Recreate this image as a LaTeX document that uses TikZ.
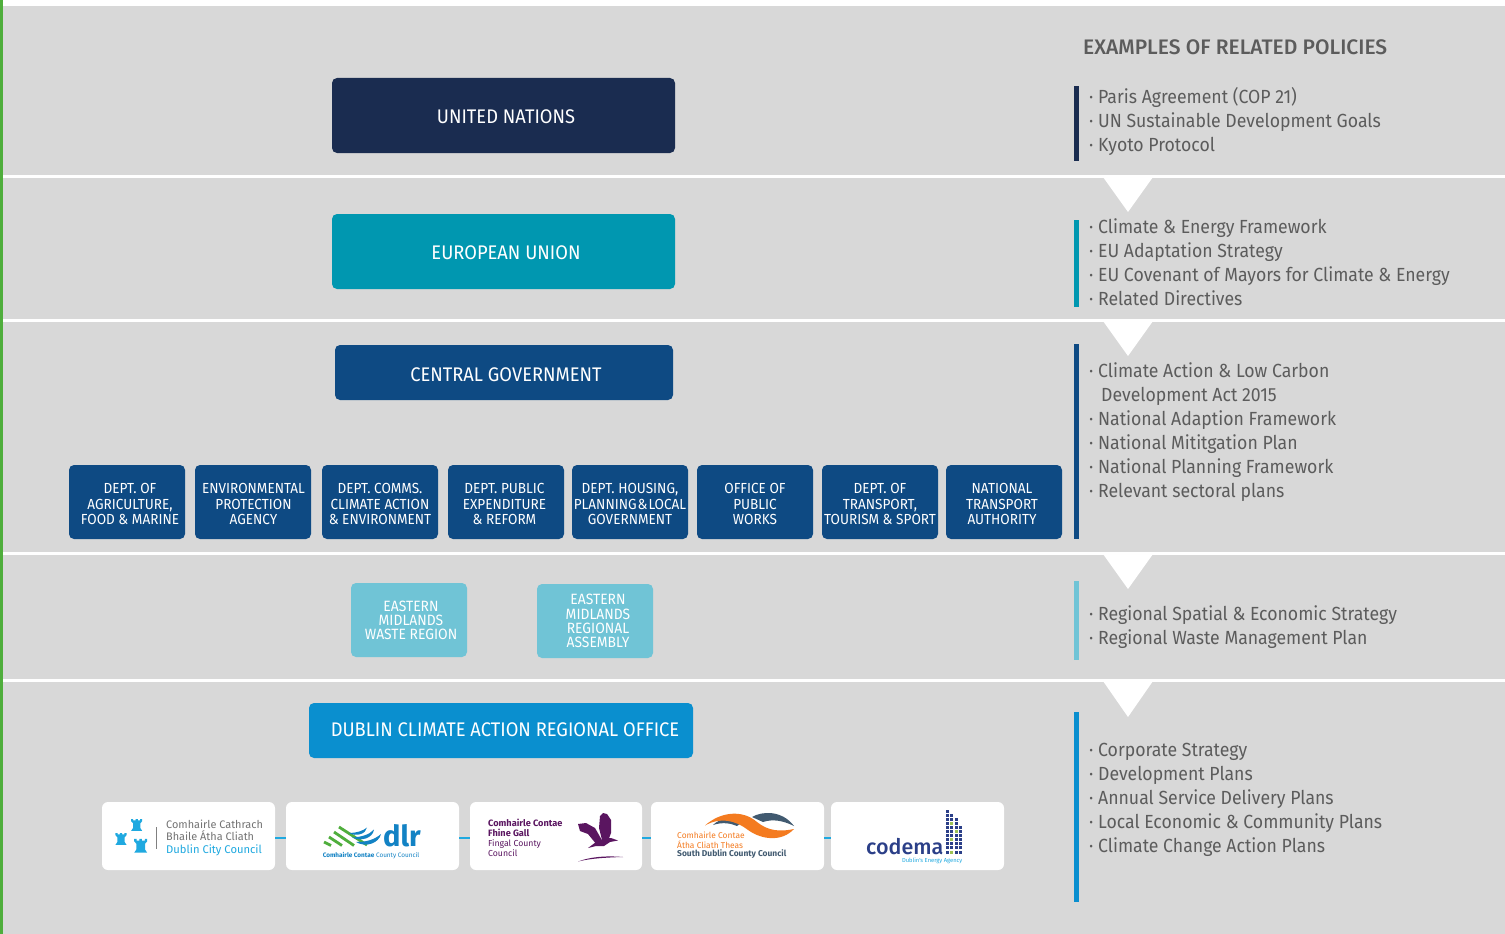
\documentclass[tikz,border=0pt]{standalone}
\usepackage{fontspec}
\setmainfont[FakeStretch=0.93]{Fira Sans}
\newfontfamily\plain{Fira Sans}
\newfontfamily\medfont{Fira Sans Medium}
\definecolor{bg}{HTML}{D8D8D8}
\definecolor{txt}{HTML}{5C5C5C}
\definecolor{navy}{HTML}{1A2C50}
\definecolor{teal}{HTML}{0097B0}
\definecolor{govblue}{HTML}{0E4A83}
\definecolor{lightb}{HTML}{70C4D6}
\definecolor{dublin}{HTML}{0A8FCF}
\definecolor{leaf}{HTML}{4FAE3C}
\definecolor{sky}{HTML}{1FA9E0}
\definecolor{dlrblue}{HTML}{1282C4}
\definecolor{purp}{HTML}{5A1560}
\definecolor{orng}{HTML}{F47B20}
\definecolor{slate}{HTML}{415A70}
\definecolor{cod}{HTML}{2B3F88}
\definecolor{codg}{HTML}{9CC255}
\tikzset{
 org/.style={draw=none,rounded corners=5pt,inner sep=0pt},
 biglab/.style={text=white,align=center,inner sep=0pt,font=\fontsize{19.7}{22}\selectfont},
 deptlab/.style={text=white,align=center,inner sep=0pt,font=\fontsize{14.6}{15.4}\selectfont},
 reglab/.style={text=white,align=center,inner sep=0pt,font=\fontsize{14.9}{14.2}\selectfont},
 tx/.style n args={4}{label={[#1,xshift=#2pt,yshift=#3pt]center:{#4}}},
 dept/.style={org,fill=govblue,minimum width=116pt,minimum height=74pt},
 reg/.style={org,fill=lightb,minimum width=116pt,minimum height=74pt},
 logo/.style={fill=white,rounded corners=6pt,minimum height=68pt,inner sep=0pt},
 pol/.style={anchor=north west,align=left,inner sep=0pt,text=txt,font=\fontsize{19}{24}\selectfont},
 sep/.style={fill=white,draw=none},
 link/.style={draw=sky,line width=1.3pt},
 tiny/.style={inner sep=0pt,anchor=west,align=left},
}
\newcommand{\castle}[2]{\fill[sky,shift={(#1)},xscale=#2,yscale=0.75*#2] (-6,-7)--(-6,-10)--(-3.8,-10)--(-3.8,-8)--(-1.2,-8)--(-1.2,-10)--(1.2,-10)--(1.2,-8)--(3.8,-8)--(3.8,-10)--(6,-10)--(6,-7)--(4,-4)--(4,3)--(6,7)--(-6,7)--(-4,3)--(-4,-4)--cycle;}
\begin{document}
\begin{tikzpicture}[x=1pt,y=-1pt]
\useasboundingbox (0,0) rectangle (1505,934);
\fill[white] (0,0) rectangle (1505,934);
\fill[bg] (3,6) rectangle (1505,934);
\fill[leaf] (0,0) rectangle (3,934);
% separators
\fill[sep] (3,175) rectangle (1505,177.5);
\fill[sep] (3,319) rectangle (1505,321.5);
\fill[sep] (3,552) rectangle (1505,554.5);
\fill[sep] (3,679) rectangle (1505,681.5);
\fill[sep] (1103,177)--(1153,177)--(1128,212)--cycle;
\fill[sep] (1103,321)--(1153,321)--(1128,356)--cycle;
\fill[sep] (1103,554)--(1153,554)--(1128,589)--cycle;
\fill[sep] (1103,681)--(1153,681)--(1128,717)--cycle;
% bars
\fill[navy] (1074,86) rectangle (1079,161);
\fill[teal] (1074,220) rectangle (1079,307);
\fill[govblue] (1074,344) rectangle (1079,539);
\fill[lightb] (1074,581) rectangle (1079,660);
\fill[dublin] (1074,712) rectangle (1079,902);
% main boxes
\node[org,fill=navy,minimum width=343pt,minimum height=75pt,tx={biglab}{2.5}{-1.5}{UNITED NATIONS}] (un) at (503.5,115.5) {};
\node[org,fill=teal,minimum width=343pt,minimum height=75pt,tx={biglab}{2.5}{-1.5}{EUROPEAN UNION}] (eu) at (503.5,251.5) {};
\node[org,fill=govblue,minimum width=338pt,minimum height=55pt,tx={biglab}{2}{-2.5}{CENTRAL GOVERNMENT}] (cg) at (504,372.5) {};
\node[dept,tx={deptlab}{3}{-2}{DEPT. OF\\AGRICULTURE,\\FOOD \& MARINE}] (d1) at (127,502) {};
\node[dept,tx={deptlab}{0.5}{-2}{ENVIRONMENTAL\\PROTECTION\\AGENCY}] (d2) at (253,502) {};
\node[dept,tx={deptlab}{0}{-2}{DEPT. COMMS.\\CLIMATE ACTION\\\& ENVIRONMENT}] (d3) at (380,502) {};
\node[dept,tx={deptlab}{-1.5}{-2}{DEPT. PUBLIC\\EXPENDITURE\\\& REFORM}] (d4) at (506,502) {};
\node[dept,tx={deptlab}{0}{-2}{DEPT. HOUSING,\\PLANNING\kern1pt\&\kern1pt LOCAL\\GOVERNMENT}] (d5) at (630,502) {};
\node[dept,tx={deptlab}{0}{-2}{OFFICE OF\\PUBLIC\\WORKS}] (d6) at (755,502) {};
\node[dept,tx={deptlab}{0}{-2}{DEPT. OF\\TRANSPORT,\\TOURISM \& SPORT}] (d7) at (880,502) {};
\node[dept,tx={deptlab}{-2}{-2}{NATIONAL\\TRANSPORT\\AUTHORITY}] (d8) at (1004,502) {};
\node[reg,tx={reglab}{2}{-0.5}{EASTERN\\MIDLANDS\\WASTE REGION}] (r1) at (409,620) {};
\node[reg,tx={reglab}{3}{0}{EASTERN\\MIDLANDS\\REGIONAL\\ASSEMBLY}] (r2) at (595,621) {};
\node[org,fill=dublin,minimum width=384pt,minimum height=55pt,tx={biglab}{4}{0.5}{DUBLIN CLIMATE ACTION REGIONAL OFFICE}] (dc) at (501,730.5) {};
% logos
\node[logo,minimum width=173pt] (l1) at (188.5,836) {};
\node[logo,minimum width=173pt] (l2) at (372.5,836) {};
\node[logo,minimum width=172pt] (l3) at (556,836) {};
\node[logo,minimum width=173pt] (l4) at (737.5,836) {};
\node[logo,minimum width=173pt] (l5) at (917.5,836) {};
\draw[link] ([yshift=-2pt]l1.east) -- ([yshift=-2pt]l2.west);
\draw[link] ([yshift=-2pt]l2.east) -- ([yshift=-2pt]l3.west);
\draw[link] ([yshift=-2pt]l3.east) -- ([yshift=-2pt]l4.west);
\draw[link] ([yshift=-2pt]l4.east) -- ([yshift=-2pt]l5.west);
% logo 1
\castle{136.7,826}{0.92}
\castle{121,840}{0.92}
\castle{140.7,847}{1.08}
\draw[gray,line width=0.6pt] (156,827)--(156,849);
\node[tiny,text=gray!90!black,font=\plain\fontsize{10.9}{12.6}\selectfont] (t1a) at (166,830.5) {Comhairle Cathrach\\Bhaile Átha Cliath};
\node[tiny,text=sky,font=\plain\fontsize{11.2}{12}\selectfont] (t1b) at (166,850) {Dublin City Council};
% logo 2
\draw[leaf,line width=2.8pt] (324,842)--(331,845.5);
\draw[leaf,line width=2.8pt] (329,837)--(342,845.5);
\draw[leaf,line width=2.8pt] (334,832)--(354,845.5);
\draw[leaf,line width=2.8pt] (339,827)--(367,845);
\fill[dlrblue] (356,842) .. controls (366,842) and (374,840) .. (381,834) .. controls (379,843) and (366,848) .. (356,842)--cycle;
\fill[dlrblue] (352,837.5) .. controls (361,837) and (369,835) .. (374,829.5) .. controls (373,838) and (361,842) .. (352,837.5)--cycle;
\fill[dlrblue] (349,833) .. controls (356,833) and (363,831) .. (367,827.5) .. controls (366,834) and (356,837) .. (349,833)--cycle;
\node[inner sep=0pt,text=dlrblue,font=\plain\fontsize{29}{29}\bfseries\selectfont] (t2a) at (402,836) {dlr};
\node[inner sep=0pt,font=\plain\fontsize{6.4}{7}\selectfont,text=dlrblue] (t2b) at (371,855.5) {\textbf{Comhairle Contae} County Council};
% logo 3
\node[tiny,text=purp,font=\plain\fontsize{9.2}{10.2}\bfseries\selectfont] (t3a) at (488,828) {Comhairle Contae\\Fhine Gall};
\node[tiny,text=purp,font=\plain\fontsize{8.7}{10.2}\selectfont] (t3b) at (488,848.5) {Fingal County\\Council};
\fill[purp] (600,816)--(603,813)--(607,814)--(611,820)--(611,833)--(608,841)--(602,840)--(599,828)--cycle;
\fill[purp] (578,824)--(586,823)--(595,828)--(603,842)--(597,845)--(588,834)--(580,831)--cycle;
\fill[purp] (588,848)--(596,842)--(606,838)--(611,838)--(618,840.5)--(610,842)--(604,846)--(596,846)--cycle;
\fill[purp] (578,861.5) .. controls (590,857) and (605,855.5) .. (623,857) .. controls (605,857.5) and (590,858.5) .. (578,861.5)--cycle;
% logo 4
\fill[slate] (713,825) .. controls (720,818) and (730,817) .. (741,823)--(737,826) .. controls (730,823) and (722,822) .. (713,825)--cycle;
\fill[slate] (752,817) .. controls (762,811) and (782,810) .. (794,826) .. controls (782,820) and (772,819) .. (763,822)--cycle;
\fill[orng] (705,825.5) .. controls (720,812) and (742,809) .. (757,822) .. controls (768,831) and (780,832) .. (794,829) .. controls (782,842) and (762,840) .. (748,830) .. controls (735,820) and (720,817) .. (705,825.5)--cycle;
\node[tiny,text=orng,font=\plain\fontsize{8.4}{9.8}\selectfont] (t4a) at (677,840) {Comhairle Contae\\Átha Cliath Theas};
\node[tiny,text=slate,font=\plain\fontsize{8.45}{9}\bfseries\selectfont] (t4b) at (677,854) {South Dublin County Council};
% logo 5
\node[inner sep=0pt,anchor=base west,text=cod,font=\medfont\fontsize{21.5}{22}\selectfont] (t5a) at (866,854) {codema};
\node[inner sep=0pt,anchor=east,text=sky,font=\plain\fontsize{5.8}{6}\selectfont] (t5b) at (962.5,860.5) {Dublin's Energy Agency};
\foreach \r in {0,...,10}{\foreach \c in {0,1,2,3}{
  \pgfmathsetmacro{\xx}{946+\c*4.4}
  \pgfmathsetmacro{\yy}{809.5+\r*4.1}
  \pgfmathtruncatemacro{\show}{(\c==0||(\c==1&&\r>0)||(\c==2&&\r>1)||(\c==3&&\r>3))?1:0}
  \pgfmathtruncatemacro{\grn}{(\c==1&&(\r==3||\r==7||\r==10))||(\c==2&&\r==5)?1:0}
  \ifnum\show=1
    \ifnum\grn=1\fill[codg] (\xx,\yy) rectangle ++(3,3);\else\fill[cod] (\xx,\yy) rectangle ++(3,3);\fi
  \fi
}}
% policies
\node[anchor=west,inner sep=0pt,text=txt,font=\medfont\fontsize{21}{24}\selectfont] (hd) at (1083,47.5) {EXAMPLES OF RELATED POLICIES};
\node[pol] (p1) at (1089,87.5) {· Paris Agreement (COP 21)\\· UN Sustainable Development Goals\\· Kyoto Protocol};
\node[pol] (p2) at (1089,218) {· Climate \& Energy Framework\\· EU Adaptation Strategy\\· EU Covenant of Mayors for Climate \& Energy\\· Related Directives};
\node[pol] (p3) at (1089,362) {· Climate Action \& Low Carbon\\\hspace{12pt}Development Act 2015\\· National Adaption Framework\\· National Mititgation Plan\\· National Planning Framework\\· Relevant sectoral plans};
\node[pol] (p4) at (1089,605.5) {· Regional Spatial \& Economic Strategy\\· Regional Waste Management Plan};
\node[pol] (p5) at (1089,742.5) {· Corporate Strategy\\· Development Plans\\· Annual Service Delivery Plans\\· Local Economic \& Community Plans\\· Climate Change Action Plans};
\end{tikzpicture}
\end{document}
